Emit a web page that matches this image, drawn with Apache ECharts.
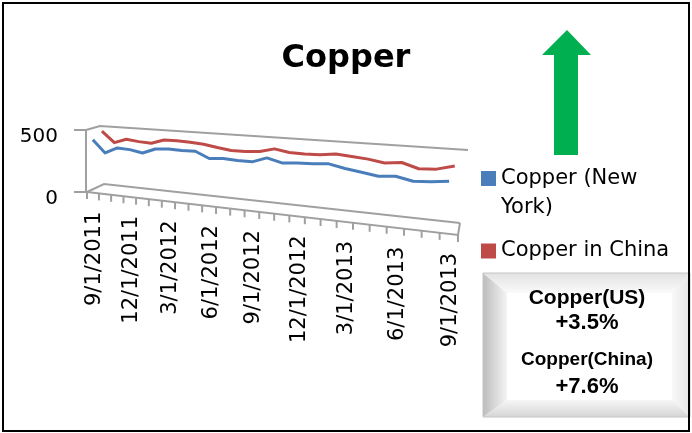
<!DOCTYPE html>
<html>
<head>
<meta charset="utf-8">
<script src="https://cdn.jsdelivr.net/npm/echarts@6/dist/echarts.min.js"></script>
<style>
  html, body { margin: 0; padding: 0; background: #ffffff; }
  #chart { width: 692px; height: 433px; }
</style>
</head>
<body>
<div id="chart"></div>
<script>
// Monthly copper prices, Sep 2011 – Sep 2013
const categories = [
  '9/1/2011', '10/1/2011', '11/1/2011', '12/1/2011',
  '1/1/2012', '2/1/2012', '3/1/2012', '4/1/2012', '5/1/2012', '6/1/2012',
  '7/1/2012', '8/1/2012', '9/1/2012', '10/1/2012', '11/1/2012', '12/1/2012',
  '1/1/2013', '2/1/2013', '3/1/2013', '4/1/2013', '5/1/2013', '6/1/2013',
  '7/1/2013', '8/1/2013', '9/1/2013'
];
const copperNewYork = [423, 325, 373, 368, 350, 389, 397, 393, 396, 350, 358, 353, 352,
                       389, 362, 371, 373, 382, 359, 343, 326, 336, 313, 319, 332];
const copperChina   = [471, 381, 417, 405, 400, 434, 434, 431, 423, 405, 390, 391, 399,
                       427, 408, 405, 408, 422, 413, 403, 384, 397, 363, 370, 401];
const seriesNames = ['Copper (New York)', 'Copper in China'];
const valueMin = 0;
const valueMax = 500;
const labelEvery = 3;
const changeNotes = [
  ['Copper(US)', '+3.5%'],
  ['Copper(China)', '+7.6%']
];

// Perspective box of the 3-D plot: screen corners of the front (depth 0)
// and back (depth 1) planes; the value axis runs bottom -> top.
const box = {
  front: { bl: [87, 192], br: [458, 235], tl: [86, 130], tr: [458, 156] },
  back:  { bl: [104, 184], br: [460, 223], tl: [100, 126], tr: [468, 150] },
  foreshorten: 0.80
};
const seriesDepth = [0.05, 0.7];
const colors = ['#4A7EBB', '#BE4B48'];
const frameStyle = { stroke: '#a0a0a0', lineWidth: 2, fill: null };

function lerp(a, b, t) { return a + (b - a) * t; }
function lerp2(p, q, t) { return [lerp(p[0], q[0], t), lerp(p[1], q[1], t)]; }

// (u along categories, t along values, d in depth), all in [0,1] -> screen point
function project(u, t, d) {
  const g = box.foreshorten;
  const s = g * u / (1 + (g - 1) * u);
  const c = k => lerp2(box.front[k], box.back[k], d);
  const bottom = lerp2(c('bl'), c('br'), s);
  const top = lerp2(c('tl'), c('tr'), s);
  return lerp2(bottom, top, t);
}

// Position of a (category, value) pair inside the cartesian grid, normalised to [0,1]
function toUnit(api, cs, idx, val) {
  const p = api.coord([idx, val]);
  return [(p[0] - cs.x) / cs.width, (cs.y + cs.height - p[1]) / cs.height];
}

function renderAxisFrame(params, api) {
  const cs = params.coordSys;
  const i = params.dataIndex;
  const unit = toUnit(api, cs, i, valueMin);
  const band = api.size([1, 0])[0] / cs.width;
  const children = [];
  const tickAt = u => {
    const p = project(u, 0, 0);
    return { type: 'line', shape: { x1: p[0], y1: p[1], x2: p[0], y2: p[1] + 7 }, style: frameStyle };
  };
  children.push(tickAt(unit[0] - band / 2));
  if (i === categories.length - 1) children.push(tickAt(unit[0] + band / 2));
  if (i % labelEvery === 0) {
    const p = project(unit[0], 0, 0);
    children.push({
      type: 'text', x: p[0] + 2, y: p[1] + 19, rotation: Math.PI / 2,
      style: {
        text: categories[i], fontFamily: 'DejaVu Sans', fontSize: 21, fill: '#000',
        align: 'right', verticalAlign: 'middle'
      }
    });
  }
  if (i === 0) {
    const poly = pts => ({ type: 'polyline', shape: { points: pts }, style: frameStyle });
    children.push(poly([project(0, 1, 0), project(0, 1, 1), project(1, 1, 1)]));
    children.push(poly([project(0, 0, 0), project(0, 0, 1), project(1, 0, 1)]));
    children.push(poly([project(0, 0, 0), project(1, 0, 0), project(1, 0, 1)]));
  }
  return { type: 'group', children };
}

function makeLineRenderer(values, depth) {
  return function (params, api) {
    if (params.dataIndex !== 0) return null;
    const cs = params.coordSys;
    const pts = values.map((v, k) => {
      const u = toUnit(api, cs, k, v);
      return project(u[0], u[1], depth);
    });
    return {
      type: 'polyline',
      shape: { points: pts },
      style: { stroke: api.visual('color'), lineWidth: 3, fill: null, lineJoin: 'round' }
    };
  };
}

const chart = echarts.init(document.getElementById('chart'), null, { renderer: 'canvas' });

// Bevelled note box
const nb = { x: 483, y: 273, w: 207, h: 144, l: 24, t: 20, r: 18, b: 17 };
function grad(x2, y2, c1, c2) {
  return new echarts.graphic.LinearGradient(0, 0, x2, y2, [{ offset: 0, color: c1 }, { offset: 1, color: c2 }]);
}
const noteFont = { fontFamily: 'Liberation Sans', fontWeight: 'bold', fill: '#000', align: 'center', verticalAlign: 'middle' };
const noteBox = {
  type: 'group', x: nb.x, y: nb.y, z: 10,
  children: [
    { type: 'rect', shape: { x: 0, y: 0, width: nb.w, height: nb.h }, style: { fill: '#fbfbfb' } },
    { type: 'polygon', shape: { points: [[0, 0], [nb.l, nb.t], [nb.l, nb.h - nb.b], [0, nb.h]] },
      style: { fill: grad(1, 0, '#bcbcbc', '#f4f4f4') } },
    { type: 'polygon', shape: { points: [[0, 0], [nb.w, 0], [nb.w - nb.r, nb.t], [nb.l, nb.t]] },
      style: { fill: grad(0, 1, '#e2e2e2', '#fafafa') } },
    { type: 'polygon', shape: { points: [[nb.w, 0], [nb.w, nb.h], [nb.w - nb.r, nb.h - nb.b], [nb.w - nb.r, nb.t]] },
      style: { fill: grad(1, 0, '#f8f8f8', '#e6e6e6') } },
    { type: 'polygon', shape: { points: [[0, nb.h], [nb.w, nb.h], [nb.w - nb.r, nb.h - nb.b], [nb.l, nb.h - nb.b]] },
      style: { fill: grad(0, 1, '#f6f6f6', '#d6d6d6') } },
    { type: 'rect', shape: { x: nb.l, y: nb.t, width: nb.w - nb.l - nb.r, height: nb.h - nb.t - nb.b },
      style: { fill: '#ffffff' } },
    { type: 'rect', shape: { x: 0, y: 0, width: nb.w, height: nb.h }, style: { fill: null, stroke: '#c4c4c4', lineWidth: 1 } },
    { type: 'text', x: 104, y: 25, style: Object.assign({ text: changeNotes[0][0], fontSize: 21 }, noteFont) },
    { type: 'text', x: 104, y: 50, style: Object.assign({ text: changeNotes[0][1], fontSize: 22 }, noteFont) },
    { type: 'text', x: 104, y: 87, style: Object.assign({ text: changeNotes[1][0], fontSize: 19 }, noteFont) },
    { type: 'text', x: 104, y: 114, style: Object.assign({ text: changeNotes[1][1], fontSize: 22 }, noteFont) }
  ]
};

const option = {
  animation: false,
  backgroundColor: '#ffffff',
  title: {
    text: 'Copper', left: 'center', top: 38,
    textStyle: { fontFamily: 'DejaVu Sans', fontWeight: 'bold', fontSize: 32, color: '#000' }
  },
  legend: {
    orient: 'vertical', left: 481, top: 164, padding: 0,
    itemWidth: 15, itemHeight: 44, itemGap: 7,
    selectedMode: false,
    data: [
      { name: seriesNames[0], icon: 'path://M0,0h15v15h-15z M0,44' },
      { name: seriesNames[1], icon: 'path://M0,14.5h15v15h-15z M0,0 M0,44' }
    ],
    formatter: name => name === seriesNames[0] ? 'Copper (New\nYork)' : name,
    textStyle: { fontFamily: 'DejaVu Sans', fontSize: 21, lineHeight: 29, color: '#000' }
  },
  grid: { left: 86, top: 130, width: 372, height: 62, show: false },
  xAxis: { type: 'category', data: categories, show: false },
  yAxis: {
    type: 'value', min: valueMin, max: valueMax, interval: valueMax - valueMin,
    axisLine: { show: true, lineStyle: { color: '#a0a0a0', width: 2 } },
    axisTick: { show: true, length: 12, lineStyle: { color: '#a0a0a0', width: 2 } },
    splitLine: { show: false },
    axisLabel: { margin: 28, verticalAlign: 'top', lineHeight: 14, fontFamily: 'DejaVu Sans', fontSize: 20, color: '#000' }
  },
  graphic: [
    { type: 'rect', shape: { x: 3, y: 3, width: 686, height: 428 }, style: { fill: null, stroke: '#000', lineWidth: 2 }, z: 5 },
    { type: 'polygon', z: 5,
      shape: { points: [[567, 30], [591, 55], [578, 55], [578, 155], [554, 155], [554, 55], [542, 55]] },
      style: { fill: '#00B050' } },
    noteBox
  ],
  series: [
    {
      type: 'custom', name: 'axis', silent: true,
      data: categories.map((c, i) => [i, valueMin]),
      encode: { x: 0, y: 1 },
      renderItem: renderAxisFrame
    },
    {
      type: 'custom', name: seriesNames[0], silent: true,
      itemStyle: { color: colors[0] },
      data: copperNewYork.map((v, i) => [i, v]),
      encode: { x: 0, y: 1 },
      renderItem: makeLineRenderer(copperNewYork, seriesDepth[0])
    },
    {
      type: 'custom', name: seriesNames[1], silent: true,
      itemStyle: { color: colors[1] },
      data: copperChina.map((v, i) => [i, v]),
      encode: { x: 0, y: 1 },
      renderItem: makeLineRenderer(copperChina, seriesDepth[1])
    }
  ]
};

chart.setOption(option);
</script>
</body>
</html>
